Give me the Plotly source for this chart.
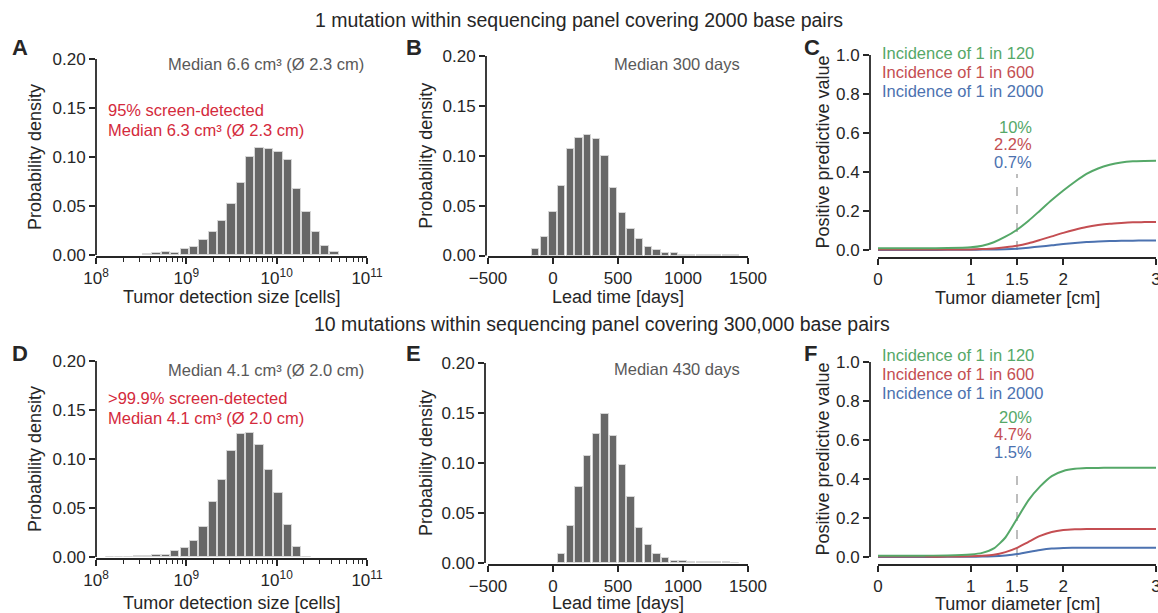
import math
import plotly.graph_objects as go

W, H = 1158, 613
FONT = "Liberation Sans, Arial, Helvetica, sans-serif"
INK = "#262626"
BAR = "#686868"
GREEN, RED, BLUE = "#55a868", "#c44e52", "#4c72b0"
ANN_RED = "#d42a3c"
ANN_GRAY = "#595959"
TICK_SIZE = 17
TITLE_SIZE = 18
ANN_SIZE = 16.5

# ---------------- data ----------------
# tumour detection size histogram (bin centres as log10(cells))
size_bin_log10 = [8.152, 8.256, 8.359, 8.463, 8.567, 8.670, 8.774, 8.878, 8.981, 9.085,
                  9.189, 9.293, 9.396, 9.500, 9.604, 9.707, 9.811, 9.915, 10.019, 10.122,
                  10.226, 10.330, 10.433, 10.537, 10.641]
size_bin_width = 0.1037
density_size_A = [None, None, None, None, 0.0015, 0.002, 0.003, 0.0025, 0.006, 0.008,
                  0.015, 0.023, 0.035, 0.052, 0.073, 0.100, 0.109, 0.108, 0.105, 0.097,
                  0.067, 0.044, 0.023, 0.009, 0.003]
density_size_D = [0.0005, 0.0005, 0.0005, 0.001, 0.0015, 0.002, 0.002, 0.006, 0.009, 0.016,
                  0.031, 0.056, 0.079, 0.108, 0.126, 0.127, 0.114, 0.089, 0.065, 0.033,
                  0.010, 0.0005, None, None, None]

# lead time histogram (bin centres in days)
lead_days = [-133, -67, 0, 67, 133, 200, 267, 333, 400, 467, 533, 600, 667, 733,
             800, 867, 933, 1000, 1067, 1133, 1200, 1267, 1333, 1400]
lead_bin_width = 66.7
density_lead_B = [0.007, 0.019, 0.044, 0.070, 0.107, 0.118, 0.121, 0.117, 0.100, 0.068,
                  0.043, 0.027, 0.017, 0.009, 0.006, 0.003, 0.003, 0.001, 0.0005, 0.001,
                  0.0003, 0.0003, 0.001, 0.0003]
density_lead_E = [None, None, None, 0.009, 0.037, 0.076, 0.107, 0.129, 0.149, 0.127,
                  0.098, 0.066, 0.035, 0.018, 0.009, 0.005, 0.002, 0.002, 0.0015, 0.001,
                  0.001, 0.001, 0.0008, 0.0005]

# positive predictive value vs tumour diameter
diam_cm = [0, 0.25, 0.5, 0.75, 1.0, 1.125, 1.25, 1.375, 1.5, 1.625, 1.75, 1.875,
           2.0, 2.125, 2.25, 2.375, 2.5, 2.625, 2.75, 2.875, 3.0]
ppv_C_120 = [0.009, 0.009, 0.009, 0.010, 0.014, 0.022, 0.040, 0.068, 0.104, 0.150, 0.203, 0.256,
             0.305, 0.350, 0.390, 0.418, 0.437, 0.449, 0.455, 0.457, 0.458]
ppv_C_600 = [0.002, 0.002, 0.002, 0.002, 0.003, 0.005, 0.008, 0.014, 0.022, 0.035, 0.052, 0.070,
             0.088, 0.104, 0.118, 0.128, 0.135, 0.139, 0.142, 0.143, 0.144]
ppv_C_2000 = [0.0005, 0.0005, 0.0005, 0.0007, 0.001, 0.002, 0.003, 0.004, 0.007, 0.012, 0.018, 0.024,
              0.031, 0.036, 0.041, 0.044, 0.046, 0.047, 0.048, 0.049, 0.049]
ppv_F_120 = [0.007, 0.007, 0.007, 0.008, 0.013, 0.021, 0.044, 0.100, 0.196, 0.292, 0.362, 0.415,
             0.441, 0.452, 0.456, 0.457, 0.458, 0.458, 0.458, 0.458, 0.458]
ppv_F_600 = [0.002, 0.002, 0.002, 0.002, 0.004, 0.006, 0.011, 0.025, 0.047, 0.078, 0.108, 0.128,
             0.138, 0.142, 0.144, 0.144, 0.144, 0.144, 0.144, 0.144, 0.144]
ppv_F_2000 = [0.0005, 0.0005, 0.0005, 0.0007, 0.0012, 0.002, 0.0035, 0.008, 0.015, 0.026, 0.036, 0.043,
              0.046, 0.047, 0.048, 0.048, 0.048, 0.048, 0.048, 0.048, 0.048]
threshold_cm = 1.5
dash_top_C = 0.39
dash_top_F = 0.455

legend_labels = ["Incidence of 1 in 120", "Incidence of 1 in 600", "Incidence of 1 in 2000"]
pct_C = ["10%", "2.2%", "0.7%"]
pct_F = ["20%", "4.7%", "1.5%"]
log_ticks = [8, 9, 10, 11]
log_ticktext = ["10<sup>8</sup>", "10<sup>9</sup>", "10<sup>10</sup>", "10<sup>11</sup>"]
lead_ticks = [-500, 0, 500, 1000, 1500]
diam_ticks = [0, 1, 1.5, 2, 3]
dens_ticks = [0, 0.05, 0.10, 0.15, 0.20]
ppv_ticks = [0, 0.2, 0.4, 0.6, 0.8, 1.0]

# ---------------- layout geometry (pixels) ----------------
panels = {
    "A": dict(n=1, xl=96, x0px=96, xr=367, xmin=8, xmax=11, top=59, zero=255, spine=257, ymax=0.2),
    "B": dict(n=2, xl=486, x0px=488, xr=748, xmin=-500, xmax=1500, top=56, zero=255.5, spine=257, ymax=0.2),
    "C": dict(n=3, xl=870, x0px=878, xr=1156, xmin=0, xmax=3, top=55, zero=250, spine=258, ymax=1.0),
    "D": dict(n=4, xl=96, x0px=96, xr=367, xmin=8, xmax=11, top=361, zero=557, spine=559, ymax=0.2),
    "E": dict(n=5, xl=485, x0px=488, xr=748, xmin=-500, xmax=1500, top=363, zero=563, spine=565, ymax=0.2),
    "F": dict(n=6, xl=870, x0px=878, xr=1156, xmin=0, xmax=3, top=362, zero=557, spine=565, ymax=1.0),
}

def px_x(p):
    return p / W

def px_y(p):
    return 1 - p / H

fig = go.Figure()
layout = dict(width=W, height=H, autosize=False, margin=dict(l=0, r=0, t=0, b=0, pad=0),
              template="none",
              paper_bgcolor="white", plot_bgcolor="white", showlegend=False,
              font=dict(family=FONT, color=INK), bargap=0)
shapes = []
annotations = []

minor_log = [n + math.log10(k) for n in range(8, 11) for k in range(2, 10)]

for key, p in panels.items():
    n = p["n"]
    xs = "" if n == 1 else str(n)
    xr_left = p["xmin"] - (p["x0px"] - p["xl"]) / (p["xr"] - p["x0px"]) * (p["xmax"] - p["xmin"])
    yr_bot = -(p["spine"] - p["zero"]) / (p["zero"] - p["top"]) * p["ymax"]
    common = dict(showline=False, zeroline=False, showgrid=False, ticks="outside",
                  automargin=False, ticklabeloverflow="allow",
                  ticklen=6, tickwidth=1.6, tickcolor=INK,
                  tickfont=dict(size=TICK_SIZE, color=INK, family=FONT), fixedrange=True)
    xax = dict(common, domain=[px_x(p["xl"]), px_x(p["xr"])], range=[xr_left, p["xmax"]],
               anchor="y" + xs)
    yax = dict(common, domain=[px_y(p["spine"]), px_y(p["top"])], range=[yr_bot, p["ymax"]],
               anchor="x" + xs)
    if key in ("A", "D"):
        xax.update(tickmode="array", tickvals=log_ticks, ticktext=log_ticktext,
                   minor=dict(tickmode="array", tickvals=minor_log, ticks="outside",
                              ticklen=3.5, tickwidth=1.2, tickcolor=INK))
    elif key in ("B", "E"):
        xax.update(tickmode="array", tickvals=lead_ticks,
                   ticktext=[("\u2212" + str(-v)) if v < 0 else str(v) for v in lead_ticks])
    else:
        xax.update(tickmode="array", tickvals=diam_ticks,
                   ticktext=["0", "1", "1.5", "2", "3"])
    if key in ("C", "F"):
        yax.update(tickmode="array", tickvals=ppv_ticks, tickformat=".1f")
    else:
        yax.update(tickmode="array", tickvals=dens_ticks, tickformat=".2f")
    layout["xaxis" + xs] = xax
    layout["yaxis" + xs] = yax
    shapes.append(dict(type="line", xref="paper", yref="paper",
                       x0=px_x(p["xl"]), x1=px_x(p["xl"]), y0=px_y(p["zero"]), y1=px_y(p["top"]),
                       line=dict(color=INK, width=1.8)))
    shapes.append(dict(type="line", xref="paper", yref="paper",
                       x0=px_x(p["x0px"]), x1=px_x(p["xr"]), y0=px_y(p["spine"]), y1=px_y(p["spine"]),
                       line=dict(color=INK, width=1.8)))

bar_style = dict(marker=dict(color=BAR, line=dict(color="#d6d6d6", width=1)), hoverinfo="x+y")
fig.add_trace(go.Bar(x=size_bin_log10, y=density_size_A, width=size_bin_width * 0.88,
                     xaxis="x", yaxis="y", **bar_style))
fig.add_trace(go.Bar(x=lead_days, y=density_lead_B, width=lead_bin_width * 0.84,
                     xaxis="x2", yaxis="y2", **bar_style))
fig.add_trace(go.Bar(x=size_bin_log10, y=density_size_D, width=size_bin_width * 0.88,
                     xaxis="x4", yaxis="y4", **bar_style))
fig.add_trace(go.Bar(x=lead_days, y=density_lead_E, width=lead_bin_width * 0.84,
                     xaxis="x5", yaxis="y5", **bar_style))

for ax, top in (("3", dash_top_C), ("6", dash_top_F)):
    fig.add_trace(go.Scatter(x=[threshold_cm, threshold_cm], y=[0, top], mode="lines",
                             line=dict(color="#9a9a9a", width=1.3, dash="dash"),
                             xaxis="x" + ax, yaxis="y" + ax))

for ax, series in (("3", [ppv_C_2000, ppv_C_600, ppv_C_120]), ("6", [ppv_F_2000, ppv_F_600, ppv_F_120])):
    for ys, col in zip(series, [BLUE, RED, GREEN]):
        fig.add_trace(go.Scatter(x=diam_cm, y=ys, mode="lines",
                                 line=dict(color=col, width=2, shape="spline", smoothing=0.6),
                                 xaxis="x" + ax, yaxis="y" + ax))

def ann(text, x, y, size=ANN_SIZE, color=INK, xanchor="left", yanchor="middle", angle=0, bold=False):
    t = f"<b>{text}</b>" if bold else text
    annotations.append(dict(text=t, x=px_x(x), y=px_y(y), xref="paper", yref="paper",
                            showarrow=False, xanchor=xanchor, yanchor=yanchor, textangle=angle,
                            font=dict(size=size, color=color, family=FONT)))

ann("1 mutation within sequencing panel covering 2000 base pairs", 313, 20, size=19.5)
ann("10 mutations within sequencing panel covering 300,000 base pairs", 312, 324, size=19.5)

for letter, x, y in (("A", 10, 48), ("B", 404, 48), ("C", 802, 48),
                     ("D", 10, 353), ("E", 404, 353), ("F", 802, 353)):
    ann(letter, x, y, size=22, bold=True)

for key in panels:
    p = panels[key]
    mid_y = (p["zero"] + p["top"]) / 2
    mid_x = (p["x0px"] + p["xr"]) / 2
    row_top = p["n"] <= 3
    xt_y = 297 if row_top else 603
    if key in ("A", "D"):
        ann("Probability density", 35, mid_y, size=TITLE_SIZE, angle=-90, xanchor="center")
        ann("Tumor detection size [cells]", mid_x, xt_y, size=TITLE_SIZE, xanchor="center")
    elif key in ("B", "E"):
        ann("Probability density", 426, mid_y, size=TITLE_SIZE, angle=-90, xanchor="center")
        ann("Lead time [days]", mid_x, xt_y, size=TITLE_SIZE, xanchor="center")
    else:
        ann("Positive predictive value", 822, mid_y, size=TITLE_SIZE, angle=-90, xanchor="center")
        ann("Tumor diameter [cm]", mid_x, xt_y + 1, size=TITLE_SIZE, xanchor="center")

ann("Median 6.6 cm³ (Ø 2.3 cm)", 366, 64, color=ANN_GRAY, xanchor="right")
ann("95% screen-detected", 106, 110, color=ANN_RED)
ann("Median 6.3 cm³ (Ø 2.3 cm)", 106, 130, color=ANN_RED)
ann("Median 300 days", 742, 64, color=ANN_GRAY, xanchor="right")
ann("Median 4.1 cm³ (Ø 2.0 cm)", 366, 370, color=ANN_GRAY, xanchor="right")
ann(">99.9% screen-detected", 106, 398, color=ANN_RED)
ann("Median 4.1 cm³ (Ø 2.0 cm)", 106, 418, color=ANN_RED)
ann("Median 430 days", 742, 369, color=ANN_GRAY, xanchor="right")

for base in (53, 355):
    for i, (lab, col) in enumerate(zip(legend_labels, [GREEN, RED, BLUE])):
        ann(lab, 880, base + i * 19, color=col)
for ys, pcts in (((127, 144, 162), pct_C), ((417, 434, 452), pct_F)):
    for yy, lab, col in zip(ys, pcts, [GREEN, RED, BLUE]):
        ann(lab, 1034, yy, color=col, xanchor="right")

layout["shapes"] = shapes
layout["annotations"] = annotations
fig.update_layout(**layout)
fig.write_html("out.html", config={"displayModeBar": False},
               post_script="document.body.style.margin='0';document.body.style.padding='0';"
                           "document.body.style.overflow='hidden';")
